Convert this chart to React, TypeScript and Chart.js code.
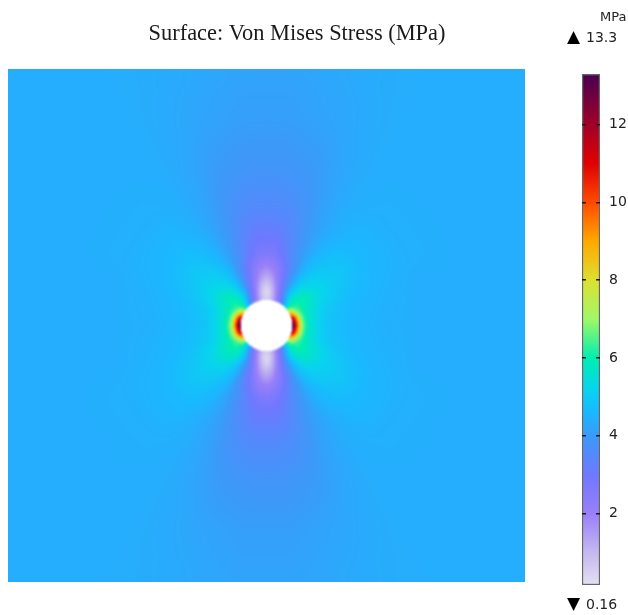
import React, { useEffect, useRef } from "react";
import { Chart, registerables } from "chart.js";

Chart.register(...registerables);

const TITLE = "Surface: Von Mises Stress (MPa)";
const UNIT = "MPa";
const MAX_MARK = "▲";
const MIN_MARK = "▼";
const MAX_LABEL = "13.3";
const MIN_LABEL = "0.16";
const BAR_MIN = 0.16;
const BAR_MAX = 13.3;
const BAR_TICKS = [2, 4, 6, 8, 10, 12];
const HOLE_RADIUS = 10;

// Colour bar: stress value, colour
const colorValues = [0.16, 1, 2, 3, 4, 4.6, 5.2, 6, 7, 8, 9, 10, 11, 12, 13.3];
const colorStops = [
  "#e4e0f0", "#c4b8f0", "#9a7ff8", "#6f78ff", "#3b9af8", "#1ab8ff", "#08d4ee", "#00eeb0",
  "#a0f868", "#dce030", "#ffa800", "#ff4a00", "#e00000", "#a00028", "#480050",
];

// Field, first quadrant, read on polar rows around the hole (angle from the x axis)
const angles = [0, 15, 25, 35, 45, 55, 65, 72, 78, 84, 90];
const radii = [10, 11, 12, 13, 14.5, 16, 19, 23, 28, 35, 45, 60, 80, 100, 145];
const stress = [
  [13.3, 12.2, 9.5, 7.2, 5.0, 3.6, 2.4, 1.7, 1.2, 0.8, 0.6],
  [12.0, 10.8, 8.5, 6.9, 5.2, 3.8, 2.6, 1.8, 1.2, 0.7, 0.5],
  [9.8, 9.0, 7.6, 6.5, 5.5, 4.0, 2.8, 1.9, 1.2, 0.6, 0.35],
  [7.8, 7.4, 6.8, 6.2, 5.6, 4.4, 3.0, 2.1, 1.3, 0.6, 0.3],
  [6.5, 6.4, 6.2, 6.1, 5.8, 4.7, 3.2, 2.3, 1.5, 0.8, 0.4],
  [5.8, 5.8, 5.9, 6.0, 5.7, 4.8, 3.4, 2.5, 1.7, 1.0, 0.7],
  [5.3, 5.4, 5.6, 5.8, 5.5, 4.7, 3.6, 2.8, 2.1, 1.5, 1.2],
  [4.9, 5.0, 5.3, 5.4, 5.2, 4.7, 3.7, 3.0, 2.5, 2.1, 1.9],
  [4.7, 4.8, 5.0, 5.1, 5.0, 4.6, 3.9, 3.4, 3.0, 2.7, 2.6],
  [4.55, 4.6, 4.75, 4.9, 4.8, 4.5, 4.0, 3.6, 3.3, 3.1, 3.1],
  [4.45, 4.5, 4.55, 4.6, 4.6, 4.4, 4.1, 3.8, 3.6, 3.5, 3.5],
  [4.4, 4.4, 4.45, 4.45, 4.45, 4.4, 4.2, 4.0, 3.9, 3.85, 3.85],
  [4.4, 4.4, 4.4, 4.4, 4.4, 4.4, 4.3, 4.2, 4.15, 4.1, 4.1],
  [4.4, 4.4, 4.4, 4.4, 4.4, 4.4, 4.35, 4.3, 4.25, 4.2, 4.2],
  [4.4, 4.4, 4.4, 4.4, 4.4, 4.4, 4.4, 4.4, 4.4, 4.4, 4.4],
];

const rgbStops = colorStops.map((c) => [1, 3, 5].map((i) => parseInt(c.slice(i, i + 2), 16)));

function bracket(list: number[], v: number): [number, number] {
  if (v <= list[0]) return [0, 0];
  for (let i = 1; i < list.length; i++) {
    if (v <= list[i]) return [i - 1, (v - list[i - 1]) / (list[i] - list[i - 1])];
  }
  return [list.length - 2, 1];
}

function valueAt(x: number, y: number): number {
  const r = Math.hypot(x, y);
  const th = (Math.atan2(Math.abs(y), Math.abs(x)) * 180) / Math.PI;
  const [ri, rt] = bracket(radii, r);
  const [ai, at] = bracket(angles, th);
  const a = stress[ri][ai] * (1 - at) + stress[ri][ai + 1] * at;
  const b = stress[ri + 1][ai] * (1 - at) + stress[ri + 1][ai + 1] * at;
  return a * (1 - rt) + b * rt;
}

function colorAt(v: number): number[] {
  const [i, t] = bracket(colorValues, v);
  return rgbStops[i].map((c, k) => c * (1 - t) + rgbStops[i + 1][k] * t);
}

const fieldPlugin = {
  id: "field",
  beforeDatasetsDraw(chart: any) {
    const { ctx, chartArea: area, scales } = chart;
    const w = Math.round(area.right - area.left);
    const h = Math.round(area.bottom - area.top);
    const off = document.createElement("canvas");
    off.width = w;
    off.height = h;
    const octx = off.getContext("2d")!;
    const img = octx.createImageData(w, h);
    for (let py = 0; py < h; py++) {
      const y = scales.y.getValueForPixel(area.top + py + 0.5);
      for (let px = 0; px < w; px++) {
        const x = scales.x.getValueForPixel(area.left + px + 0.5);
        const inHole = Math.hypot(x, y) < HOLE_RADIUS;
        const c = inHole ? [255, 255, 255] : colorAt(valueAt(x, y));
        const o = (py * w + px) * 4;
        img.data[o] = c[0];
        img.data[o + 1] = c[1];
        img.data[o + 2] = c[2];
        img.data[o + 3] = 255;
      }
    }
    octx.putImageData(img, 0, 0);
    ctx.save();
    ctx.drawImage(off, area.left, area.top);
    ctx.beginPath();
    ctx.rect(area.left, area.top, w, h);
    ctx.clip();
    ctx.filter = "blur(1px)";
    ctx.drawImage(off, area.left, area.top);
    ctx.restore();
  },
};

const barPlugin = {
  id: "barPaint",
  beforeDatasetsDraw(chart: any) {
    const y = chart.scales.y;
    const top = y.getPixelForValue(BAR_MAX);
    const bottom = y.getPixelForValue(BAR_MIN);
    const g = chart.ctx.createLinearGradient(0, bottom, 0, top);
    colorValues.forEach((v, i) =>
      g.addColorStop((v - BAR_MIN) / (BAR_MAX - BAR_MIN), colorStops[i])
    );
    chart.getDatasetMeta(0).data[0].options.backgroundColor = g;
  },
  afterDraw(chart: any) {
    const { ctx } = chart;
    ctx.save();
    ctx.fillStyle = "#222222";
    ctx.textBaseline = "middle";
    ctx.textAlign = "left";
    ctx.font = '13px "DejaVu Sans"';
    ctx.fillText(UNIT, 70, 18);
    ctx.font = '14px "DejaVu Sans"';
    ctx.fillText(MAX_LABEL, 56, 38);
    ctx.fillText(MIN_LABEL, 56, 605);
    ctx.fillStyle = "#000000";
    ctx.font = '17px "DejaVu Sans"';
    ctx.fillText(MAX_MARK, 37, 38);
    ctx.fillText(MIN_MARK, 37, 605);
    ctx.restore();
  },
};

export default function App() {
  const mainRef = useRef<HTMLCanvasElement>(null);
  const barRef = useRef<HTMLCanvasElement>(null);

  useEffect(() => {
    document.body.style.margin = "0";
    const main = new Chart(mainRef.current!, {
      type: "scatter",
      data: {
        datasets: [
          {
            label: "Von Mises Stress",
            data: radii.flatMap((r, i) =>
              angles.map((a, j) => ({
                x: r * Math.cos((a * Math.PI) / 180),
                y: r * Math.sin((a * Math.PI) / 180),
                v: stress[i][j],
              }))
            ),
            pointRadius: 0,
          },
        ],
      },
      options: {
        animation: false,
        responsive: false,
        layout: { padding: { bottom: 33 } },
        plugins: {
          legend: { display: false },
          tooltip: { enabled: false },
          title: {
            display: true,
            text: TITLE,
            color: "#1a1a1a",
            font: { family: '"Liberation Serif"', size: 22.4, weight: "normal" },
            padding: { top: 21, bottom: 21 },
          },
        },
        scales: {
          x: { type: "linear", min: -100, max: 100, display: false },
          y: {
            type: "linear",
            min: -100,
            max: 100,
            position: "right",
            grid: { display: false },
            border: { display: false },
            ticks: { display: false },
            afterFit(scale: any) {
              scale.width = 61;
            },
          },
        },
      },
      plugins: [fieldPlugin],
    } as any);

    const bar = new Chart(barRef.current!, {
      type: "bar",
      data: {
        labels: ["Stress"],
        datasets: [
          {
            data: [[BAR_MIN, BAR_MAX]],
            barPercentage: 1,
            categoryPercentage: 1,
            borderColor: "#666666",
            borderWidth: 1.5,
            borderSkipped: false,
            backgroundColor: "#ffffff",
          },
        ],
      },
      options: {
        animation: false,
        responsive: false,
        layout: { padding: { left: 52, top: 74, bottom: 30 } },
        plugins: { legend: { display: false }, tooltip: { enabled: false }, title: { display: false } },
        scales: {
          x: { display: false },
          y: {
            position: "right",
            min: BAR_MIN,
            max: BAR_MAX,
            afterBuildTicks(scale: any) {
              scale.ticks = BAR_TICKS.map((value) => ({ value }));
            },
            afterFit(scale: any) {
              scale.width = 28;
            },
            border: { display: false, dash: [4, 10, 4, 0] },
            grid: {
              z: 1,
              color: "#1a1a1a",
              lineWidth: 1.5,
              drawTicks: false,
              tickLength: 0,
            },
            ticks: {
              color: "#222222",
              padding: 9,
              font: { family: '"DejaVu Sans"', size: 14 },
            },
          },
        },
      },
      plugins: [barPlugin],
    } as any);

    return () => {
      main.destroy();
      bar.destroy();
    };
  }, []);

  return (
    <div style={{ position: "fixed", left: 0, top: 0, width: 628, height: 615, background: "#fff" }}>
      <canvas ref={mainRef} width={578} height={615} style={{ position: "absolute", left: 8, top: 0 }} />
      <canvas ref={barRef} width={98} height={615} style={{ position: "absolute", left: 530, top: 0 }} />
    </div>
  );
}
